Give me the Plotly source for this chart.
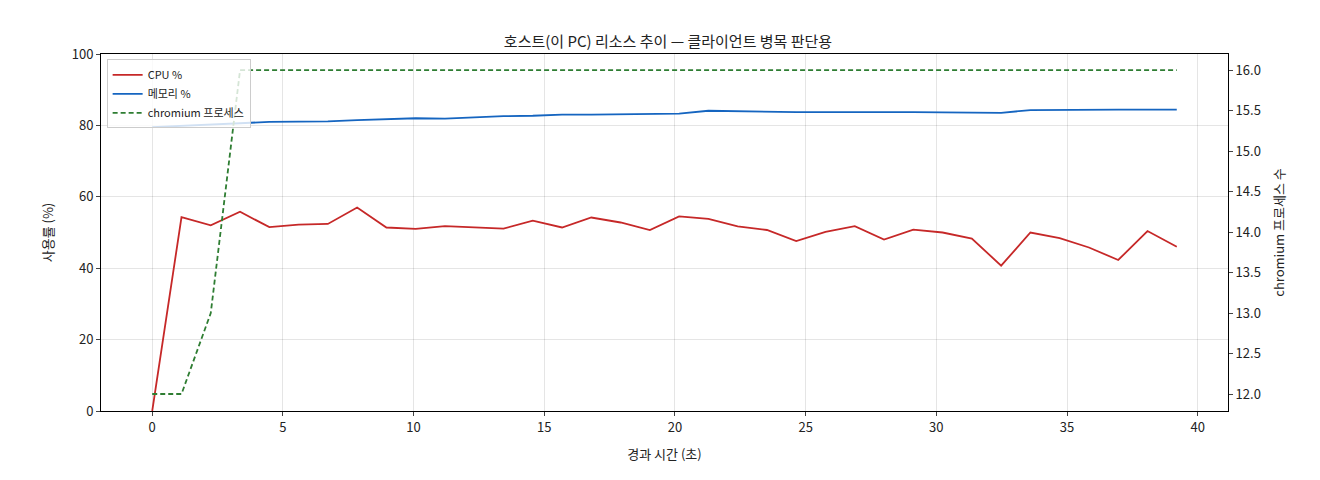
import plotly.graph_objects as go

t = [0, 1.12, 2.24, 3.36, 4.48, 5.6, 6.72, 7.84, 8.96, 10.08, 11.2, 12.32, 13.44, 14.56, 15.68, 16.8, 17.92, 19.04, 20.16, 21.28, 22.4, 23.52, 24.64, 25.76, 26.88, 28.0, 29.12, 30.24, 31.36, 32.48, 33.6, 34.72, 35.84, 36.96, 38.08, 39.2]
cpu = [0, 54.3, 52, 55.8, 51.5, 52.2, 52.4, 57, 51.4, 51, 51.8, 51.4, 51.1, 53.3, 51.4, 54.2, 52.8, 50.7, 54.5, 53.8, 51.7, 50.7, 47.6, 50.2, 51.8, 48, 50.8, 50, 48.3, 40.7, 50, 48.4, 45.8, 42.3, 50.4, 46]
mem = [79.5, 79.8, 80.2, 80.6, 81.0, 81.1, 81.1, 81.5, 81.8, 82.0, 81.9, 82.3, 82.6, 82.7, 83.0, 83.0, 83.1, 83.1, 83.3, 84.1, 83.9, 83.8, 83.7, 83.7, 83.6, 83.7, 83.7, 83.7, 83.6, 83.5, 84.3, 84.4, 84.4, 84.4, 84.4, 84.4]
procs = [12, 12, 13, 16] + [16] * 32

fig = go.Figure()
fig.add_trace(go.Scatter(x=t, y=cpu, mode="lines", name="CPU %", line=dict(color="#c62828", width=1.8)))
fig.add_trace(go.Scatter(x=t, y=mem, mode="lines", name="메모리 %", line=dict(color="#1565c0", width=1.8)))
fig.add_trace(go.Scatter(x=t, y=procs, mode="lines", name="chromium 프로세스", yaxis="y2", line=dict(color="#2e7d32", width=1.8, dash="5px,3px")))

ax = dict(showline=True, linecolor="black", mirror=True, ticks="outside", ticklen=4, gridcolor="rgba(0,0,0,0.1)", zeroline=False, automargin=False, tickfont=dict(size=13, color="#222"))
fig.update_layout(
    width=1320, height=480, plot_bgcolor="white", paper_bgcolor="white",
    font=dict(family="Noto Sans CJK KR", color="#222", size=13),
    title=dict(text="호스트(이 PC) 리소스 추이 — 클라이언트 병목 판단용", x=0.5, xanchor="center", y=0.94, font=dict(size=15)),
    margin=dict(l=93, r=100, t=46, b=77),
    xaxis=dict(ax, range=[-1.96, 41.16], dtick=5, title=dict(text="경과 시간 (초)", font=dict(size=13))),
    yaxis=dict(ax, range=[0, 100], dtick=20, title=dict(text="사용률 (%)", font=dict(size=13))),
    yaxis2=dict(overlaying="y", side="right", range=[11.79, 16.2], dtick=0.5, tickformat=".1f", showline=True, linecolor="black",
                ticks="outside", ticklen=4, showgrid=False, zeroline=False, automargin=False, tickfont=dict(size=13, color="#222"),
                title=dict(text="chromium 프로세스 수", font=dict(size=13))),
    legend=dict(x=0.005, y=0.985, xanchor="left", yanchor="top", bgcolor="rgba(255,255,255,0.8)", bordercolor="#ccc", borderwidth=1, font=dict(size=11)),
)
fig.write_html("out.html")
